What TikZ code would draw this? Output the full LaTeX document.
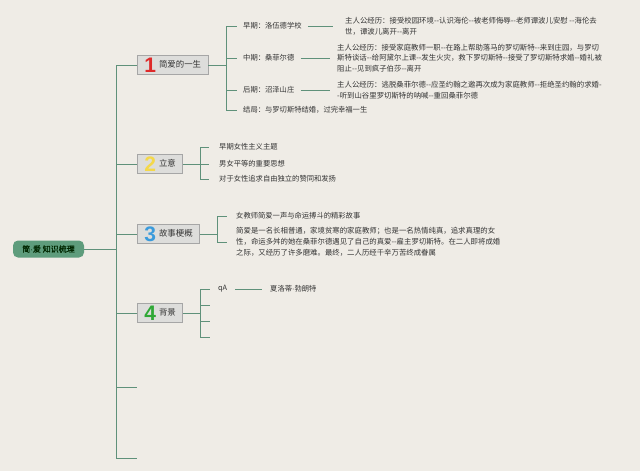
\documentclass[tikz,border=0pt]{standalone}
\usepackage{fontspec}
\setmainfont{Noto Sans CJK SC}
\newfontfamily\boldcjk{Noto Sans CJK SC}[FakeBold=1.3]
\newfontfamily\digitfont{Liberation Sans}
\definecolor{bg}{HTML}{EFECE6}
\definecolor{ln}{HTML}{5F917A}
\definecolor{rootc}{HTML}{5E9C7C}
\definecolor{boxf}{HTML}{DDDDDB}
\definecolor{boxd}{HTML}{A6A6A6}
\definecolor{txt}{HTML}{333333}
\definecolor{dred}{HTML}{DE2A2A}
\definecolor{dyel}{HTML}{F4D84A}
\definecolor{dblue}{HTML}{3B9BDB}
\definecolor{dgreen}{HTML}{2FA836}
\newcommand\bignum[2]{\raisebox{-4.5pt}{\digitfont\fontsize{21}{21}\selectfont\bfseries\textcolor{#1}{#2}}\hspace{3pt}}
\newcommand\mdot{{\digitfont ·}}
\tikzset{
  conn/.style={draw=ln, line width=1pt},
  rootbox/.style={fill=rootc, rounded corners=5pt, minimum height=17pt, minimum width=71pt,
    inner xsep=6pt, inner ysep=0pt, text=black!85!green, font=\boldcjk\fontsize{8}{9}\selectfont},
  topicbox/.style={draw=boxd, fill=boxf, line width=0.8pt, minimum height=19pt, inner xsep=7pt,
    inner ysep=0pt, anchor=west, font=\fontsize{8.4}{9}\selectfont, text=txt},
  lbl/.style={anchor=west, inner xsep=6pt, inner ysep=1pt, font=\fontsize{7.3}{10.5}\selectfont, text=txt, align=left},
  det/.style={anchor=west, inner xsep=4pt, inner ysep=1pt, font=\fontsize{7.4}{10.8}\selectfont, text=txt, align=left},
}
\begin{document}
\begin{tikzpicture}[x=1pt,y=-1pt]
\fill[bg] (0,0) rectangle (640,471);
\useasboundingbox (0,0) rectangle (640,471);

% root
\node[rootbox] (root) at (48.5,249) {简\mdot 爱 知识梳理};
\coordinate (tj) at (116,249);
\draw[conn] (root.east) -- (tj);

% topic boxes
\node[topicbox] (b1) at (137,65) {\bignum{dred}{1}简爱的一生};
\node[topicbox] (b2) at (137,164) {\bignum{dyel}{2}立意};
\node[topicbox] (b3) at (137,234) {\bignum{dblue}{3}故事梗概};
\node[topicbox] (b4) at (137,313) {\bignum{dgreen}{4}背景};
\coordinate (e1) at (137,387);
\coordinate (e2) at (137,458);
\foreach \t in {b1,b2,b3,b4,e1,e2} \draw[conn] (tj) |- (\t.west);

% branch 1
\coordinate (j1) at (226,65);
\draw[conn] (b1.east) -- (j1);
\node[lbl] (c11) at (237,26) {早期：洛伍德学校};
\node[lbl] (c12) at (237,58) {中期：桑菲尔德};
\node[lbl] (c13) at (237,90) {后期：沼泽山庄};
\node[lbl] (c14) at (237,110) {结局：与罗切斯特结婚，过完幸福一生};
\foreach \t in {c11,c12,c13,c14} \draw[conn] (j1) |- (\t.west);
\node[det] (d11) at (341,26) {主人公经历：接受校园环境-{}-认识海伦-{}-被老师侮辱-{}-老师谭波儿安慰 -{}-海伦去\\世，谭波儿离开-{}-离开};
\node[det] (d12) at (333,58) {主人公经历：接受家庭教师一职-{}-在路上帮助落马的罗切斯特-{}-来到庄园，与罗切\\斯特谈话-{}-给阿黛尔上课-{}-发生火灾，救下罗切斯特-{}-接受了罗切斯特求婚-{}-婚礼被\\阻止-{}-见到疯子伯莎-{}-离开};
\node[det] (d13) at (333,90) {主人公经历：逃脱桑菲尔德-{}-应圣约翰之邀再次成为家庭教师-{}-拒绝圣约翰的求婚-\\-听到山谷里罗切斯特的呐喊-{}-重回桑菲尔德};
\draw[conn, shorten >=8pt] (c11.east) -- (d11.west);
\draw[conn, shorten >=3pt] (c12.east) -- (d12.west);
\draw[conn, shorten >=3pt] (c13.east) -- (d13.west);

% branch 2
\coordinate (j2) at (200,164);
\draw[conn] (b2.east) -- (j2);
\node[lbl, inner xsep=10pt] (c21) at (209,147) {早期女性主义主题};
\node[lbl, inner xsep=10pt] (c22) at (209,164) {男女平等的重要思想};
\node[lbl, inner xsep=10pt] (c23) at (209,179) {对于女性追求自由独立的赞同和发扬};
\foreach \t in {c21,c22,c23} \draw[conn] (j2) |- (\t.west);

% branch 3
\coordinate (j3) at (217,234);
\draw[conn] (b3.east) -- (j3);
\node[lbl, inner xsep=9pt] (c31) at (227,216) {女教师简爱一声与命运搏斗的精彩故事};
\node[det, inner xsep=9pt] (c32) at (227,242) {简爱是一名长相普通，家境贫寒的家庭教师；也是一名热情纯真，追求真理的女\\性，命运多舛的她在桑菲尔德遇见了自己的真爱-{}-雇主罗切斯特。在二人即将成婚\\之际，又经历了许多磨难。最终，二人历经千辛万苦终成眷属};
\foreach \t in {c31,c32} \draw[conn] (j3) |- (\t.west);

% branch 4
\coordinate (j4) at (200,313);
\draw[conn] (b4.east) -- (j4);
\node[lbl, inner xsep=8pt] (c41) at (210,289) {qA};
\coordinate (c42) at (210,305);
\coordinate (c43) at (210,321);
\coordinate (c44) at (210,337);
\foreach \t in {c41,c42,c43,c44} \draw[conn] (j4) |- (\t.west);
\node[lbl, inner xsep=8pt] (d41) at (262,289) {夏洛蒂\mdot 勃朗特};
\draw[conn] (c41.east) -- (d41.west);
\end{tikzpicture}
\end{document}
